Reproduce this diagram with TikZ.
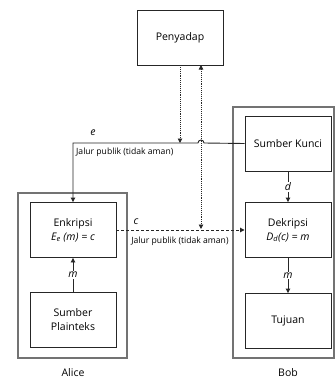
\documentclass[tikz,border=0pt]{standalone}
\usepackage{fontspec}
\setmainfont{Open Sans}
\usetikzlibrary{arrows.meta}
\begin{document}
\begin{tikzpicture}[x=1pt,y=1pt,
  box/.style={draw=black!85,line width=0.9pt,minimum width=86pt,minimum height=55pt,align=center,font=\fontsize{10.5}{13}\selectfont,inner sep=0pt},
  outer/.style={draw=black!55,line width=1.4pt,inner sep=0pt},
  lbl/.style={font=\fontsize{10.5}{12}\selectfont\itshape,inner sep=1pt},
  small/.style={font=\fontsize{8.6}{10}\selectfont,inner sep=0pt},
  tip/.style={-{Triangle[length=4.5pt,width=4.5pt]}},
  conn/.style={draw=black!85,line width=0.9pt},
  dot/.style={conn,densely dotted}]
\useasboundingbox (0,0) rectangle (335,-378);
% outer boxes
\node[outer,minimum width=109pt,minimum height=165pt] (alice) at (72.5,-275.5) {};
\node[outer,minimum width=101pt,minimum height=251pt] (bob) at (283.5,-232.5) {};
\node[font=\fontsize{10.5}{12}\selectfont] (alicelbl) at (73,-373) {Alice};
\node[font=\fontsize{10.5}{12}\selectfont] (boblbl) at (288,-373) {Bob};
% inner boxes
\node[box] (pen) at (180,-38) {Penyadap};
\node[box] (sk) at (288,-143.5) {Sumber Kunci};
\node[box,fill=white] (enk) at (73,-230) {Enkripsi\\[1pt]\itshape E\textsubscript{e} (m) = c};
\node[box] (pt) at (73,-320) {Sumber\\[1pt]Plainteks};
\node[box,fill=white] (dek) at (288,-230) {Dekripsi\\[1pt]\itshape D\textsubscript{d}(c) = m};
\node[box] (tuj) at (288,-321) {Tujuan};
% coordinates
\coordinate (eturn) at (73,-143);
\coordinate (ein) at (180,-143);
\coordinate (penout) at (180,-65);
\coordinate (penin) at (201,-65);
\coordinate (cin) at (201,-229);
% e line with hop
\draw[conn,tip] (sk.west) -- (204,-143) arc[start angle=0,end angle=180,radius=3] -- (eturn) -- (enk.north);
\draw[dot,tip] (penout) -- (ein);
\draw[dot,{Triangle[length=4.5pt,width=4.5pt]}-{Triangle[length=4.5pt,width=4.5pt]}] (penin) -- (cin);
\draw[conn,densely dashed,tip] (enk.east) -- (dek.west);
% vertical connectors with labels
\draw[conn,tip] (sk.south) -- node[lbl,fill=white] (dlbl) {d} (dek.north);
\draw[conn,tip] (pt.north) -- node[lbl,fill=white] (mlbl1) {m} (enk.south);
\draw[conn,tip] (dek.south) -- node[lbl,fill=white] (mlbl2) {m} (tuj.north);
% labels
\node[lbl] (elbl) at (93,-133) {e};
\node[lbl] (clbl) at (136,-222) {c};
\node[small,anchor=west] (jp1) at (76,-152) {Jalur publik (tidak aman)};
\node[small] (jp2) at (180,-241) {Jalur publik (tidak aman)};
\end{tikzpicture}
\end{document}
